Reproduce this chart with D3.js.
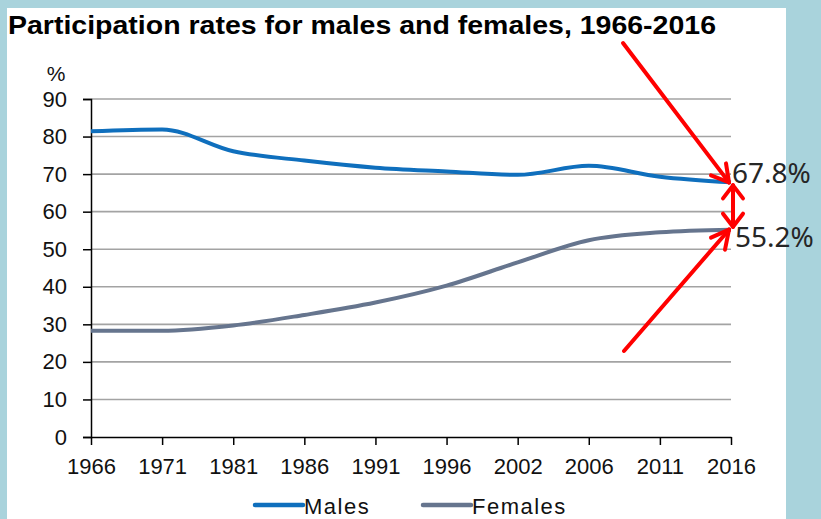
<!DOCTYPE html>
<html>
<head>
<meta charset="utf-8">
<script src="https://cdn.jsdelivr.net/npm/d3@7"></script>
<style>
  body { margin: 0; background: #a9d3dc; }
  svg { display: block; }
</style>
</head>
<body>
<svg id="chart" width="821" height="519"></svg>
<script>
// data
var years = ["1966", "1971", "1981", "1986", "1991", "1996", "2002", "2006", "2011", "2016"];
var males = [81.4, 81.9, 76.1, 73.6, 71.7, 70.7, 69.8, 72.2, 69.3, 67.8];
var females = [28.3, 28.3, 29.7, 32.5, 35.8, 40.3, 46.5, 52.4, 54.5, 55.2];
var yTicks = [0, 10, 20, 30, 40, 50, 60, 70, 80, 90];
var seriesNames = ["Males", "Females"];
var colors = ["#0f6fbd", "#66758e"];

var svg = d3.select("#chart");

// white panel
svg.append("rect")
    .attr("x", 7).attr("y", 8)
    .attr("width", 779).attr("height", 511)
    .attr("fill", "#ffffff");

svg.append("text")
    .attr("x", 8).attr("y", 34)
    .attr("font-family", "Liberation Sans, Arial, sans-serif")
    .attr("font-weight", "bold")
    .attr("font-size", 25)
    .attr("textLength", 708)
    .attr("lengthAdjust", "spacingAndGlyphs")
    .attr("fill", "#000")
    .text("Participation rates for males and females, 1966-2016");

var x = d3.scalePoint().domain(years).range([91, 731]);
var y = d3.scaleLinear().domain([0, 90]).range([437, 99]);

var font = "Liberation Sans, Arial, sans-serif";

// gridlines
svg.append("g").selectAll("line")
    .data(yTicks.filter(function (d) { return d > 0; }))
    .enter().append("line")
    .attr("x1", 91).attr("x2", 731)
    .attr("y1", function (d) { return y(d); })
    .attr("y2", function (d) { return y(d); })
    .attr("stroke", "#a3a3a3")
    .attr("stroke-width", 1.6);

// y axis
var yAxis = svg.append("g")
    .attr("transform", "translate(91,0)")
    .call(d3.axisLeft(y).tickValues(yTicks).tickSize(8).tickPadding(16));
yAxis.select(".domain").attr("stroke", "#000").attr("stroke-width", 1.5);
yAxis.selectAll(".tick line").attr("stroke", "#000").attr("stroke-width", 1.5);
yAxis.selectAll(".tick text")
    .attr("font-family", font).attr("font-size", 22).attr("fill", "#111");

svg.append("text")
    .attr("x", 56).attr("y", 81)
    .attr("text-anchor", "middle")
    .attr("font-family", font).attr("font-size", 21)
    .attr("fill", "#111")
    .text("%");

// x axis
var xAxis = svg.append("g")
    .attr("transform", "translate(0," + y(0) + ")")
    .call(d3.axisBottom(x).tickSize(8).tickSizeOuter(0).tickPadding(13));
xAxis.select(".domain").attr("stroke", "#000").attr("stroke-width", 1.5);
xAxis.selectAll(".tick line").attr("stroke", "#000").attr("stroke-width", 1.5);
xAxis.selectAll(".tick text")
    .attr("font-family", font).attr("font-size", 22).attr("fill", "#111");

// lines
var line = d3.line()
    .x(function (d, i) { return x(years[i]); })
    .y(function (d) { return y(d); })
    .curve(d3.curveMonotoneX);

[males, females].forEach(function (s, i) {
    svg.append("path")
        .datum(s)
        .attr("d", line)
        .attr("fill", "none")
        .attr("stroke", colors[i])
        .attr("stroke-width", 4)
        .attr("stroke-linejoin", "round");
});

// legend
var legX = [255, 423];
seriesNames.forEach(function (n, i) {
    svg.append("line")
        .attr("x1", legX[i]).attr("x2", legX[i] + 48)
        .attr("y1", 505).attr("y2", 505)
        .attr("stroke", colors[i])
        .attr("stroke-width", 4.5)
        .attr("stroke-linecap", "round");
    svg.append("text")
        .attr("x", legX[i] + 49).attr("y", 514)
        .attr("font-family", font).attr("font-size", 22)
        .attr("letter-spacing", 1.5)
        .attr("fill", "#111")
        .text(n);
});

// red annotation arrows
var red = "#ff0000";
var ann = svg.append("g")
    .attr("stroke", red).attr("stroke-width", 4)
    .attr("stroke-linecap", "round").attr("fill", "none");
var last = years.length - 1;
var tipM = [x(years[last]) - 2, y(males[last])];
var tipF = [x(years[last]) - 2, y(females[last])];
function seg(a, b) {
    ann.append("line").attr("x1", a[0]).attr("y1", a[1]).attr("x2", b[0]).attr("y2", b[1]);
}
seg([623, 43], tipM);
seg(tipM, [tipM[0] - 3, tipM[1] - 19]);
seg(tipM, [tipM[0] - 18, tipM[1] - 7]);
seg([624, 351], tipF);
seg(tipF, [tipF[0] - 4, tipF[1] + 20]);
seg(tipF, [tipF[0] - 18, tipF[1] + 8]);
// double arrow between the two end values
var dx = tipM[0] + 4;
seg([dx, tipM[1] + 3], [dx, tipF[1] - 3]);
seg([dx, tipM[1] + 3], [dx - 10, tipM[1] + 16]);
seg([dx, tipM[1] + 3], [dx + 10, tipM[1] + 16]);
seg([dx, tipF[1] - 3], [dx - 10, tipF[1] - 16]);
seg([dx, tipF[1] - 3], [dx + 10, tipF[1] - 16]);

svg.append("text")
    .attr("x", 732).attr("y", 183)
    .attr("font-family", "Noto Sans, Open Sans, sans-serif")
    .attr("font-size", 28)
    .attr("fill", "#262626")
    .text(males[last].toFixed(1) + "%");
svg.append("text")
    .attr("x", 735).attr("y", 247)
    .attr("font-family", "Noto Sans, Open Sans, sans-serif")
    .attr("font-size", 28)
    .attr("fill", "#262626")
    .text(females[last].toFixed(1) + "%");
</script>
</body>
</html>
